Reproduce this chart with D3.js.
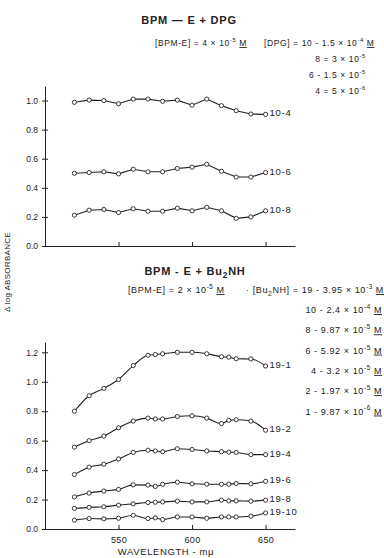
<!DOCTYPE html>
<html>
<head>
<meta charset="utf-8">
<script src="https://cdn.jsdelivr.net/npm/d3@7"></script>
<style>
  html, body { margin: 0; padding: 0; background: #fff; }
  svg { display: block; font-family: "Liberation Sans", "DejaVu Sans", sans-serif; }
  .axis path, .axis line { stroke: #222; stroke-width: 1; }
  .axis text { fill: #222; font-size: 8.5px; }
</style>
</head>
<body>
<svg id="chart" width="384" height="558"></svg>
<script>
// golflengtes (m-mu)
const golfBoven = [520, 530, 540, 550, 560, 570, 580, 590, 600, 610, 620, 630, 640, 650];
const golfOnder = [520, 530, 540, 550, 560, 570, 575, 580, 590, 600, 610, 620, 625, 630, 640, 650];

// BPM-E + DPG
const dpg10_4 = [0.988, 1.003, 1.0, 0.978, 1.01, 1.01, 0.995, 1.003, 0.968, 1.01, 0.965, 0.93, 0.907, 0.905];
const dpg10_6 = [0.50, 0.505, 0.51, 0.496, 0.528, 0.51, 0.51, 0.533, 0.542, 0.562, 0.514, 0.474, 0.474, 0.505];
const dpg10_8 = [0.212, 0.246, 0.251, 0.23, 0.256, 0.239, 0.239, 0.26, 0.242, 0.266, 0.242, 0.19, 0.2, 0.242];
const labelsBoven = ['10-4', '10-6', '10-8'];

// BPM-E + Bu2NH
const bu19_1 = [0.80, 0.905, 0.955, 1.015, 1.11, 1.18, 1.185, 1.19, 1.20, 1.20, 1.19, 1.17, 1.167, 1.156, 1.155, 1.107];
const bu19_2 = [0.556, 0.60, 0.631, 0.687, 0.733, 0.753, 0.747, 0.747, 0.764, 0.769, 0.753, 0.716, 0.738, 0.742, 0.733, 0.671];
const bu19_4 = [0.37, 0.42, 0.44, 0.476, 0.52, 0.535, 0.53, 0.525, 0.545, 0.54, 0.53, 0.525, 0.522, 0.52, 0.505, 0.505];
const bu19_6 = [0.218, 0.244, 0.258, 0.269, 0.30, 0.298, 0.289, 0.304, 0.318, 0.307, 0.304, 0.304, 0.304, 0.309, 0.307, 0.324];
const bu19_8 = [0.14, 0.147, 0.151, 0.162, 0.171, 0.18, 0.182, 0.184, 0.189, 0.184, 0.184, 0.196, 0.191, 0.191, 0.189, 0.196];
const bu19_10 = [0.06, 0.071, 0.069, 0.073, 0.093, 0.071, 0.076, 0.064, 0.082, 0.082, 0.073, 0.082, 0.082, 0.082, 0.087, 0.109];
const labelsOnder = ['19-1', '19-2', '19-4', '19-6', '19-8', '19-10'];

const xTicks = [550, 600, 650];
const yTicksBoven = [0.0, 0.2, 0.4, 0.6, 0.8, 1.0];
const yTicksOnder = [0.0, 0.2, 0.4, 0.6, 0.8, 1.0, 1.2];

const inkt = '#222';
const svg = d3.select('#chart');

const x = d3.scaleLinear().domain([500, 670]).range([45, 295]);
const yBoven = d3.scaleLinear().domain([0, 1.1]).range([246, 86]);
const yOnder = d3.scaleLinear().domain([0, 1.27]).range([529, 342]);

function tekenAssen(y, yTicks, metLabels) {
    const ax = svg.append('g').attr('class', 'axis')
        .attr('transform', `translate(0,${y(0)})`)
        .call(d3.axisBottom(x).tickValues(xTicks).tickSizeInner(-4).tickSizeOuter(0).tickPadding(6)
            .tickFormat(metLabels ? d3.format('d') : ''));
    ax.selectAll('text').attr('dy', '0.9em').style('font-size', '9px').style('letter-spacing', '0.4px');

    const ay = svg.append('g').attr('class', 'axis')
        .attr('transform', `translate(${x(500)},0)`)
        .call(d3.axisLeft(y).tickValues(yTicks).tickSizeInner(3).tickSizeOuter(0).tickPadding(4)
            .tickFormat(d3.format('.1f')));
    ay.selectAll('.tick line').attr('x1', -3).attr('x2', 3);
}

function tekenReeks(golf, waarden, y, label, curve) {
    const punten = golf.map((g, i) => [g, waarden[i]]);
    const lijn = d3.line().x(d => x(d[0])).y(d => y(d[1])).curve(curve);
    svg.append('path').attr('d', lijn(punten))
        .attr('fill', 'none').attr('stroke', inkt).attr('stroke-width', 1.1);
    svg.append('g').selectAll('circle').data(punten).join('circle')
        .attr('cx', d => x(d[0])).attr('cy', d => y(d[1])).attr('r', 2.1)
        .attr('fill', '#fff').attr('stroke', inkt).attr('stroke-width', 0.9);
    const laatste = punten[punten.length - 1];
    svg.append('text').attr('x', x(laatste[0]) + 4).attr('y', y(laatste[1]) + 2)
        .attr('fill', inkt).style('font-size', '9.5px').style('letter-spacing', '0.7px').text(label);
}

// tekst met exponent: delen = [[tekst, 'n'|'s'|'b'|'u'], ...]
function tekst(xp, yp, delen, grootte, anker) {
    const t = svg.append('text').attr('x', xp).attr('y', yp).attr('fill', inkt)
        .attr('text-anchor', anker || 'start').style('font-size', grootte + 'px')
        .style('letter-spacing', '0.6px');
    let verschoven = 0;
    for (const [s, soort] of delen) {
        const ts = t.append('tspan').text(s);
        if (soort === 's') {
            ts.attr('dy', -grootte * 0.45).style('font-size', (grootte * 0.7) + 'px');
            verschoven = grootte * 0.45;
        } else if (soort === 'b') {
            ts.attr('dy', grootte * 0.3).style('font-size', (grootte * 0.75) + 'px');
            verschoven = -grootte * 0.3;
        } else {
            if (verschoven) { ts.attr('dy', verschoven); verschoven = 0; }
            if (soort === 'u') ts.attr('text-decoration', 'underline');
        }
    }
    return t;
}

// bovenste paneel
tekenAssen(yBoven, yTicksBoven, false);
tekenReeks(golfBoven, dpg10_4, yBoven, labelsBoven[0], d3.curveLinear);
tekenReeks(golfBoven, dpg10_6, yBoven, labelsBoven[1], d3.curveLinear);
tekenReeks(golfBoven, dpg10_8, yBoven, labelsBoven[2], d3.curveLinear);

tekst(189, 24, [['BPM — E + DPG', 'n']], 11, 'middle').style('font-weight', 'bold').style('letter-spacing', '0.8px');
tekst(155, 46, [['[BPM-E] = 4 × 10', 'n'], ['-5', 's'], [' ', 'n'], ['M', 'u']], 8.5);
tekst(264, 46, [['[DPG]  = 10 - 1.5 × 10', 'n'], ['-4', 's'], [' ', 'n'], ['M', 'u']], 8.5);
tekst(366, 62, [['8 = 3 × 10', 'n'], ['-5', 's']], 8.5, 'end');
tekst(366, 78, [['6 - 1.5 × 10', 'n'], ['-5', 's']], 8.5, 'end');
tekst(366, 94, [['4 = 5 × 10', 'n'], ['-6', 's']], 8.5, 'end');

// onderste paneel
tekenAssen(yOnder, yTicksOnder, true);
tekenReeks(golfOnder, bu19_1, yOnder, labelsOnder[0], d3.curveMonotoneX);
tekenReeks(golfOnder, bu19_2, yOnder, labelsOnder[1], d3.curveMonotoneX);
tekenReeks(golfOnder, bu19_4, yOnder, labelsOnder[2], d3.curveMonotoneX);
tekenReeks(golfOnder, bu19_6, yOnder, labelsOnder[3], d3.curveMonotoneX);
tekenReeks(golfOnder, bu19_8, yOnder, labelsOnder[4], d3.curveMonotoneX);
tekenReeks(golfOnder, bu19_10, yOnder, labelsOnder[5], d3.curveMonotoneX);

tekst(195, 275, [['BPM - E + Bu', 'n'], ['2', 'b'], ['NH', 'n']], 11, 'middle').style('font-weight', 'bold').style('letter-spacing', '0.8px');
tekst(128, 293, [['[BPM-E] = 2 × 10', 'n'], ['-5', 's'], [' ', 'n'], ['M', 'u']], 9);
tekst(246, 293, [['· [Bu', 'n'], ['2', 'b'], ['NH] = 19 - 3.95 × 10', 'n'], ['-3', 's'], [' ', 'n'], ['M', 'u']], 9);
const rijen = [['10 - 2.4 × 10', '-4'], ['8 - 9.87 × 10', '-5'], ['6 - 5.92 × 10', '-5'],
               ['4 - 3.2 × 10', '-5'], ['2 - 1.97 × 10', '-5'], ['1 - 9.87 × 10', '-6']];
rijen.forEach((r, i) => {
    tekst(382, 313 + i * 20.3, [[r[0], 'n'], [r[1], 's'], [' ', 'n'], ['M', 'u']], 9, 'end');
});

// as-titels
svg.append('text').attr('transform', 'translate(10,272) rotate(-90)')
    .attr('text-anchor', 'middle').attr('fill', inkt).style('font-size', '8px')
    .style('letter-spacing', '0.3px').text('Δ log ABSORBANCE');
svg.append('text').attr('x', 166).attr('y', 555).attr('text-anchor', 'middle')
    .attr('fill', inkt).style('font-size', '9.5px').style('letter-spacing', '0.6px').text('WAVELENGTH - mμ');
</script>
</body>
</html>
